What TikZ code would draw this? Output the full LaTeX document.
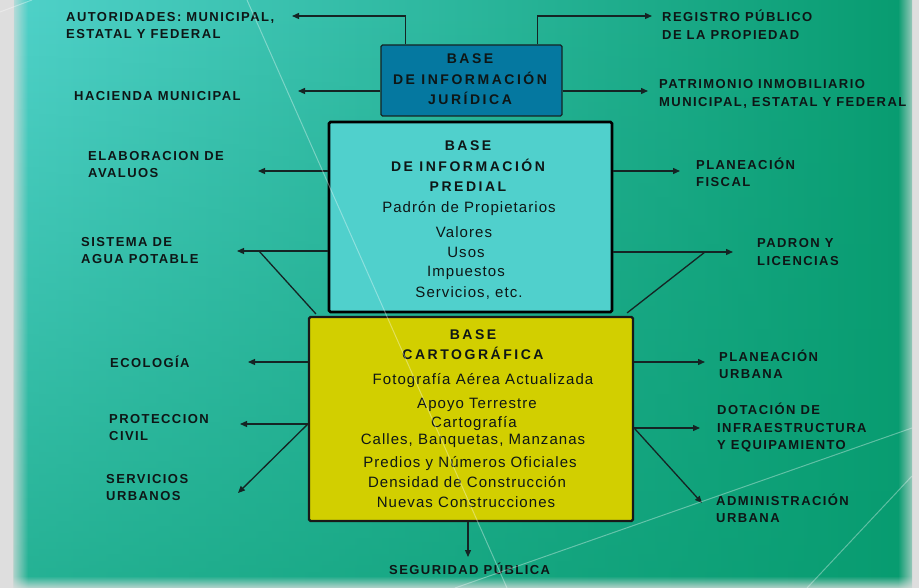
\documentclass[tikz,border=0pt]{standalone}
\usepackage{fontspec}
\setmainfont{Liberation Sans}
\newfontfamily\lblfont[LetterSpace=11]{Liberation Sans}
\newfontfamily\ttlfont[LetterSpace=18]{Liberation Sans}
\newfontfamily\bodyfont[LetterSpace=7]{Liberation Sans}
\usetikzlibrary{arrows.meta,fadings}
\definecolor{bgL}{HTML}{50D2CA}
\definecolor{bgM}{HTML}{2DB79D}
\definecolor{bgR}{HTML}{089C70}
\definecolor{jurC}{HTML}{0578A0}
\definecolor{predC}{HTML}{50D0CC}
\definecolor{cartC}{HTML}{D2CF00}
\definecolor{lineC}{HTML}{152424}
\definecolor{txtC}{HTML}{0E1616}
\definecolor{marg}{HTML}{DEDEDE}
\begin{document}
\begin{tikzpicture}[x=1pt,y=-1pt,
  lbl/.style={font=\lblfont\bfseries\fontsize{13}{17.5}\selectfont, text=txtC, align=left, anchor=west, inner sep=0pt},
  ttl/.style={font=\ttlfont\bfseries\fontsize{14}{20.5}\selectfont, text=txtC, align=center, inner sep=0pt},
  body/.style={font=\bodyfont\fontsize{15}{18}\selectfont, text=txtC, anchor=base, inner sep=0pt},
  box/.style={draw, rectangle, inner sep=0pt, rounded corners=1.5pt},
  arr/.style={draw=lineC, line width=1.3pt, -{Triangle[length=7pt,width=6pt]}},
  ln/.style={draw=lineC, line width=1.3pt},
  deco/.style={draw=white, line width=1pt, opacity=0.35}
]
\useasboundingbox (0,0) rectangle (919,588);
% background
\fill[marg] (0,0) rectangle (919,588);
\shade[left color=bgL, middle color=bgM, right color=bgR] (14,0) rectangle (912,588);
\fill[bgR, path fading=north, opacity=0.6] (14,0) rectangle (912,588);
\fill[marg, path fading=east] (8,0) rectangle (28,588);
\fill[marg, path fading=west] (898,0) rectangle (919,588);
\fill[marg, path fading=north, opacity=0.8] (0,576) rectangle (919,588);

% boxes
\node[box, draw=lineC, line width=1.2pt, fill=jurC, minimum width=181pt, minimum height=71pt] (jur) at (471.5,80.5) {};
\node[box, draw=black, line width=2.6pt, fill=predC, minimum width=283pt, minimum height=190pt] (pred) at (470.5,217) {};
\node[box, draw=black!90, line width=2.2pt, fill=cartC, minimum width=324pt, minimum height=204pt] (carto) at (471,419) {};

% box titles
\node[ttl] (jurT) at (470,79.5) {BASE\\DE INFORMACIÓN\\JURÍDICA};
\node[ttl] (predT) at (468,166.5) {BASE\\DE INFORMACIÓN\\PREDIAL};
\node[ttl] (cartT) at (473,344.5) {BASE\\CARTOGRÁFICA};

% box bodies
\node[body] (p1) at (469,213) {Padrón de Propietarios};
\node[body] (p2) at (464,238) {Valores};
\node[body] (p3) at (466,258) {Usos};
\node[body] (p4) at (466,277) {Impuestos};
\node[body] (p5) at (469,298) {Servicios, etc.};
\node[body] (c1) at (483,384) {Fotografía Aérea Actualizada};
\node[body] (c2) at (477,408) {Apoyo Terrestre};
\node[body] (c3) at (474,427) {Cartografía};
\node[body] (c4) at (473,444) {Calles, Banquetas, Manzanas};
\node[body] (c5) at (470,467) {Predios y Números Oficiales};
\node[body] (c6) at (467,487) {Densidad de Construcción};
\node[body] (c7) at (466,507) {Nuevas Construcciones};

% outer labels
\node[lbl] (lAut) at (66,25.5) {AUTORIDADES: MUNICIPAL,\\ESTATAL Y FEDERAL};
\node[lbl] (lHac) at (74,96) {HACIENDA MUNICIPAL};
\node[lbl] (lAva) at (88,164.5) {ELABORACION DE\\AVALUOS};
\node[lbl] (lAgua) at (81,250.5) {SISTEMA DE\\AGUA POTABLE};
\node[lbl] (lEco) at (110,362) {ECOLOGÍA};
\node[lbl] (lPro) at (109,427.5) {PROTECCION\\CIVIL};
\node[lbl] (lSer) at (106,487.5) {SERVICIOS\\URBANOS};
\node[lbl] (lSeg) at (389,569) {SEGURIDAD PÚBLICA};
\node[lbl] (rReg) at (662,25) {REGISTRO PÚBLICO\\DE LA PROPIEDAD};
\node[lbl] (rPat) at (659,94) {PATRIMONIO INMOBILIARIO\\MUNICIPAL, ESTATAL Y FEDERAL};
\node[lbl] (rFis) at (696,172.5) {PLANEACIÓN\\FISCAL};
\node[lbl] (rPad) at (757,252) {PADRON Y\\LICENCIAS};
\node[lbl] (rPlU) at (719,364.5) {PLANEACIÓN\\URBANA};
\node[lbl] (rDot) at (717,428) {DOTACIÓN DE\\INFRAESTRUCTURA\\Y EQUIPAMIENTO};
\node[lbl] (rAdm) at (716,508.5) {ADMINISTRACIÓN\\URBANA};

% arrow end points
\coordinate (aAut) at (292,16);
\coordinate (aReg) at (652,16);
\coordinate (aHac) at (298,91);
\coordinate (aPat) at (648,91);
\coordinate (aAva) at (258,171);
\coordinate (aFis) at (680,171);
\coordinate (aAgua) at (237,251);
\coordinate (jAgua) at (259,251);
\coordinate (aPad) at (733,252);
\coordinate (jPad) at (705,252);
\coordinate (aEco) at (248,362);
\coordinate (aPlU) at (705,362);
\coordinate (aPro) at (240,424);
\coordinate (aSer) at (238,493);
\coordinate (aDot) at (700,428);
\coordinate (aAdm) at (702,503);
\coordinate (aSeg) at (468,557);

% connectors
\draw[arr] ([xshift=25pt]jur.north west) |- (aAut);
\draw[arr] ([xshift=-25pt]jur.north east) |- (aReg);
\draw[arr] (jur.west |- aHac) -- (aHac);
\draw[arr] (jur.east |- aPat) -- (aPat);
\draw[arr] (pred.west |- aAva) -- (aAva);
\draw[arr] (pred.east |- aFis) -- (aFis);
\draw[arr] (pred.west |- aAgua) -- (aAgua);
\draw[ln] ([xshift=8pt,yshift=2pt]carto.north west) -- (jAgua);
\draw[arr] (pred.east |- aPad) -- (aPad);
\draw[ln] ([xshift=-7pt,yshift=3pt]carto.north east) -- (jPad);
\draw[arr] (carto.west |- aEco) -- (aEco);
\draw[arr] (carto.east |- aPlU) -- (aPlU);
\draw[arr] (carto.west |- aPro) -- (aPro);
\draw[arr] (carto.west |- aPro) -- (aSer);
\draw[arr] (carto.east |- aDot) -- (aDot);
\draw[arr] (carto.east |- aDot) -- (aAdm);
\draw[arr] (carto.south -| aSeg) -- (aSeg);

% decorative light lines
\draw[deco] (247,0) -- (507,588);
\draw[deco] (455,588) -- (912,428);
\draw[deco] (807,588) -- (912,476);
\draw[deco] (0,12) -- (32,0);
\end{tikzpicture}
\end{document}
